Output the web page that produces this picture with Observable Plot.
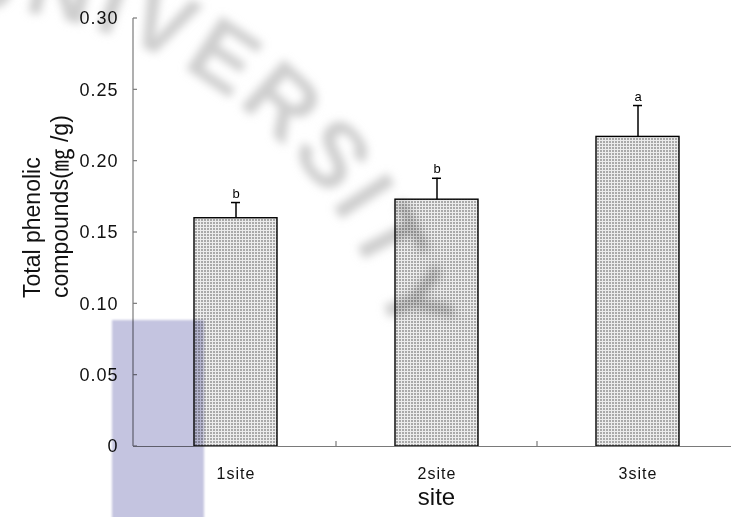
<!DOCTYPE html>
<html>
<head>
<meta charset="utf-8">
<script src="https://cdn.jsdelivr.net/npm/d3@7"></script>
<script src="https://cdn.jsdelivr.net/npm/@observablehq/plot@0.6"></script>
<style>
  body { margin: 0; background: #fff; }
  #chart svg { display: block; }
</style>
</head>
<body>
<div id="chart"></div>
<script>
// Total phenolic compounds by site (mean, standard error, significance letter)
const sites = ["1site", "2site", "3site"];
const means = [0.160, 0.173, 0.217];
const errors = [0.011, 0.015, 0.022];
const letters = ["b", "b", "a"];
const yTicks = [0, 0.05, 0.10, 0.15, 0.20, 0.25, 0.30];
const yTitle = ["Total phenolic", "compounds(㎎ /g)"];
const xTitle = "site";
const sealText = "UNIVERSITY";

const rows = sites.map((site, i) => ({
  site, mean: means[i], top: means[i] + errors[i], letter: letters[i]
}));

const font = "'Liberation Sans', Arial, 'Noto Sans CJK KR', sans-serif";
const W = 731, H = 517;
const mLeft = 133, mTop = 18, mBottom = 71;

const chart = Plot.plot({
  width: W, height: H,
  marginTop: mTop, marginRight: 0, marginBottom: mBottom, marginLeft: mLeft,
  style: {fontFamily: font, color: "#111", background: "white", overflow: "visible"},
  x: {domain: sites, range: [135, 738], padding: 0, label: null},
  y: {domain: [0, 0.30], label: null},
  marks: [
    Plot.barY(rows, {x: "site", y: "mean", fill: "url(#stipple)", stroke: "#000", strokeWidth: 1.4, insetLeft: 59, insetRight: 59}),
    Plot.ruleX(rows, {x: "site", y1: "mean", y2: "top", stroke: "#000", strokeWidth: 1.5}),
    Plot.tickY(rows, {x: "site", y: "top", stroke: "#000", strokeWidth: 1.5, insetLeft: 96, insetRight: 96}),
    Plot.text(rows, {x: "site", y: "top", text: "letter", dy: -9, fontSize: 13, fill: "#000"}),
    Plot.ruleY([0], {stroke: "#7a7a7a", strokeWidth: 1.2}),
    Plot.axisY({ticks: yTicks, tickSize: 0, tickPadding: 15, fontSize: 18,
      tickFormat: d => d === 0 ? "0" : d.toFixed(2)}),
    Plot.axisX({tickSize: 0, tickPadding: 21, fontSize: 16}),
    Plot.text([xTitle], {frameAnchor: "bottom", dy: 58, dx: 4, fontSize: 24, fill: "#111"})
  ]
});

document.getElementById("chart").append(chart);

const svg = d3.select(chart);
const x = chart.scale("x");
const y = chart.scale("y");
const y0 = y.apply(0);

// stippled bar fill and soft-edge filters
const defs = svg.insert("defs", ":first-child");
const pat = defs.append("pattern").attr("id", "stipple")
  .attr("width", 3).attr("height", 3).attr("patternUnits", "userSpaceOnUse");
pat.append("rect").attr("width", 3).attr("height", 3).attr("fill", "#ececec");
pat.append("rect").attr("width", 2).attr("height", 2).attr("fill", "#a9a9a9");
defs.append("filter").attr("id", "soft").attr("x", "-20%").attr("y", "-20%").attr("width", "140%").attr("height", "140%")
  .append("feGaussianBlur").attr("stdDeviation", 4.5);
defs.append("filter").attr("id", "edge")
  .append("feGaussianBlur").attr("stdDeviation", 1.2);

svg.selectAll("[aria-label='y-axis tick label'] text").style("letter-spacing", "1px");
svg.selectAll("[aria-label='x-axis tick label'] text").style("letter-spacing", "1px");

// axis lines and inward ticks
const axes = svg.append("g").attr("stroke", "#7a7a7a").attr("stroke-width", 1.2);
axes.append("line").attr("x1", mLeft).attr("x2", mLeft).attr("y1", y.apply(0.30)).attr("y2", y0);
yTicks.forEach(v => axes.append("line")
  .attr("x1", mLeft).attr("x2", mLeft + 4).attr("y1", y.apply(v)).attr("y2", y.apply(v)));
sites.slice(0, -1).forEach(s => {
  const bx = x.apply(s) + x.bandwidth;
  axes.append("line").attr("x1", bx).attr("x2", bx).attr("y1", y0).attr("y2", y0 - 5);
});

// two-line rotated y title, both lines starting at the same height
const yt = svg.append("g").attr("font-size", 23).attr("fill", "#111").attr("font-family", font);
yTitle.forEach((t, i) => yt.append("text")
  .attr("transform", `translate(${40 + i * 28},298) rotate(-90)`)
  .attr("text-anchor", "start").text(t));

// faint seal lettering and tinted block laid over the page
const seal = svg.append("g").style("mix-blend-mode", "multiply").attr("filter", "url(#soft)");
const cx = -45, cy = 465, R = 458;
const a0 = -90.5 * Math.PI / 180, a1 = 30 * Math.PI / 180;
seal.append("path").attr("id", "sealArc").attr("fill", "none")
  .attr("d", `M${cx + R * Math.cos(a0)},${cy + R * Math.sin(a0)} A${R},${R} 0 0 1 ${cx + R * Math.cos(a1)},${cy + R * Math.sin(a1)}`);
seal.append("text").attr("font-family", font).attr("font-weight", "bold").attr("font-size", 92)
  .attr("text-anchor", "start").attr("letter-spacing", 5).attr("fill", "#cecece")
  .append("textPath").attr("href", "#sealArc").attr("startOffset", 0).text(sealText);

svg.append("rect").attr("x", 112).attr("y", 320).attr("width", 92).attr("height", 210)
  .attr("fill", "#c4c4e0").attr("filter", "url(#edge)").style("mix-blend-mode", "multiply");
</script>
</body>
</html>
